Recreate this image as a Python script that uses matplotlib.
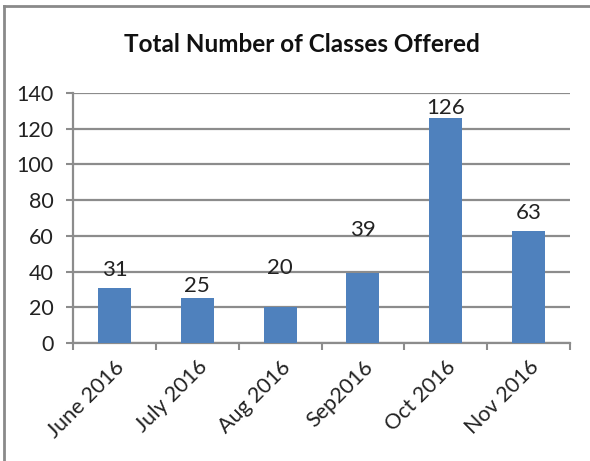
import matplotlib
matplotlib.use("Agg")
import matplotlib.pyplot as plt
from matplotlib.lines import Line2D

categories = ["June 2016", "July 2016", "Aug 2016", "Sep2016", "Oct 2016", "Nov 2016"]
values = [31, 25, 20, 39, 126, 63]
yticks = [0, 20, 40, 60, 80, 100, 120, 140]

# label offsets above bar top (pixels) – styling only
label_offsets = [18, 12, 39, 43, 10, 18]

plt.rcParams['font.family'] = ['Lato', 'DejaVu Sans']

fig = plt.figure(figsize=(5.90, 4.61), dpi=100)
ax = fig.add_axes([73/590, 1 - 343/461, (570-73)/590, (343-93)/461])

x = list(range(len(categories)))
bars = ax.bar(x, values, width=0.4, color="#4F81BD", zorder=3)
ax.set_xlim(-0.5, len(categories) - 0.5)
ax.set_ylim(0, 140)
ax.set_yticks(yticks)
ax.set_yticklabels([str(t) for t in yticks], fontsize=15.5, color="#222222")

gridc = "#8c8c8c"
ax.grid(axis='y', color=gridc, linewidth=1.6, zorder=0)
ax.set_axisbelow(True)
for s in ['top', 'right']:
    ax.spines[s].set_visible(False)
for s in ['left', 'bottom']:
    ax.spines[s].set_color(gridc)
    ax.spines[s].set_linewidth(1.6)

ax.tick_params(axis='y', length=5, width=1.5, color=gridc, pad=9)
# x ticks at category boundaries
ax.set_xticks([i - 0.5 for i in range(len(categories) + 1)], minor=False)
ax.set_xticklabels([])
ax.tick_params(axis='x', which='major', length=5, width=1.5, color=gridc)
ax.set_xticks(x, minor=True)
ax.set_xticklabels(categories, minor=True, rotation=45, ha='right',
                   rotation_mode='anchor', fontsize=15.5, color="#222222")
ax.tick_params(axis='x', which='minor', length=0, pad=10)

for xi, v, off in zip(x, values, label_offsets):
    ax.annotate(str(v), (xi, v), xytext=(0, off), textcoords='offset pixels',
                ha='center', va='center', fontsize=16, color="#222222")

fig.text(302/590, 1 - 45/461, "Total Number of Classes Offered", ha='center',
         va='center', fontsize=17.5, fontweight='bold', color="#111111")

# figure border (top and left)
fig.add_artist(Line2D([4/590, 4/590], [0, 1 - 6/461], color="#8a8a8a", linewidth=2,
                      transform=fig.transFigure))
fig.add_artist(Line2D([4/590, 1], [1 - 6/461, 1 - 6/461], color="#8a8a8a", linewidth=2,
                      transform=fig.transFigure))

fig.savefig("out.png", dpi=100)
